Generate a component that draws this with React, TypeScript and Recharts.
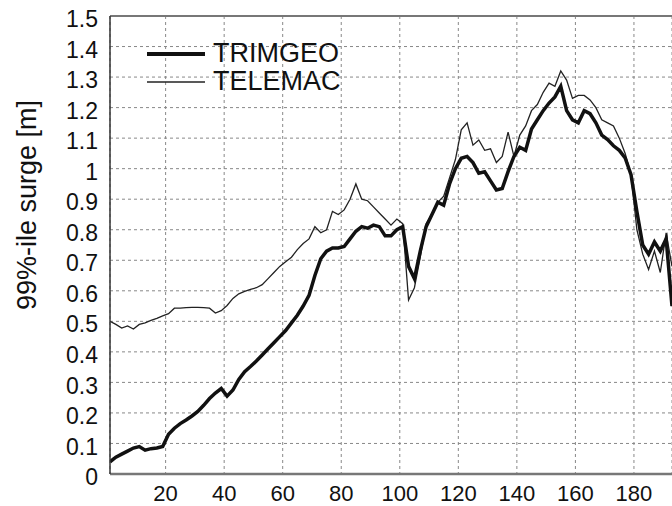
import React from 'react';
import { LineChart, Line, XAxis, YAxis, CartesianGrid, ReferenceLine, Label } from 'recharts';

// station index along the coast (every 2nd point)
const stations = [
  1, 3, 5, 7, 9, 11, 13, 15, 17, 19, 21, 23, 25, 27, 29, 31, 33, 35, 37, 39,
  41, 43, 45, 47, 49, 51, 53, 55, 57, 59, 61, 63, 65, 67, 69, 71, 73, 75, 77, 79,
  81, 83, 85, 87, 89, 91, 93, 95, 97, 99, 101, 103, 105, 107, 109, 111, 113, 115, 117, 119,
  121, 123, 125, 127, 129, 131, 133, 135, 137, 139, 141, 143, 145, 147, 149, 151, 153, 155, 157, 159,
  161, 163, 165, 167, 169, 171, 173, 175, 177, 179, 181, 183, 185, 187, 189, 191, 193,
];

const trimgeo = [
  0.04, 0.055, 0.065, 0.075, 0.085, 0.09, 0.078, 0.083, 0.085, 0.09, 0.13, 0.15, 0.165, 0.177, 0.19, 0.205, 0.225, 0.247, 0.265, 0.28,
  0.255, 0.275, 0.31, 0.335, 0.352, 0.37, 0.39, 0.41, 0.43, 0.45, 0.47, 0.495, 0.52, 0.55, 0.585, 0.65, 0.705, 0.73, 0.74, 0.74,
  0.745, 0.77, 0.795, 0.81, 0.805, 0.815, 0.81, 0.78, 0.78, 0.8, 0.81, 0.68, 0.64, 0.73, 0.81, 0.85, 0.89, 0.88, 0.95, 1.0,
  1.034, 1.04, 1.02, 0.985, 0.99, 0.96, 0.93, 0.935, 0.99, 1.04, 1.07, 1.06, 1.13, 1.16, 1.19, 1.215, 1.235, 1.27, 1.19, 1.16,
  1.15, 1.19, 1.18, 1.15, 1.11, 1.095, 1.075, 1.06, 1.035, 0.98, 0.86, 0.75, 0.72, 0.76, 0.73, 0.77, 0.55,
];

const telemac = [
  0.5, 0.49, 0.478, 0.485, 0.475, 0.49, 0.495, 0.503, 0.51, 0.518, 0.525, 0.543, 0.543, 0.545, 0.546, 0.546, 0.545, 0.543, 0.527, 0.535,
  0.552, 0.575, 0.59, 0.598, 0.605, 0.61, 0.62, 0.64, 0.66, 0.68, 0.695, 0.71, 0.735, 0.755, 0.77, 0.81, 0.79, 0.8, 0.86, 0.85,
  0.865, 0.9, 0.95, 0.9, 0.895, 0.875, 0.855, 0.835, 0.815, 0.835, 0.82, 0.57, 0.61, 0.71, 0.82, 0.85, 0.89, 0.91, 0.97, 1.03,
  1.127, 1.15, 1.077, 1.094, 1.06, 1.065, 1.02, 1.04, 1.12, 1.04, 1.11, 1.14, 1.19, 1.21, 1.25, 1.28, 1.27, 1.32, 1.29, 1.23,
  1.24, 1.24, 1.225, 1.2, 1.16, 1.15, 1.14, 1.1, 1.05, 0.98, 0.8, 0.72, 0.67, 0.73, 0.66, 0.79, 0.68,
];

const xTicks = [20, 40, 60, 80, 100, 120, 140, 160, 180];
const yTicks = [0, 0.1, 0.2, 0.3, 0.4, 0.5, 0.6, 0.7, 0.8, 0.9, 1, 1.1, 1.2, 1.3, 1.4, 1.5];

const data = stations.map((x, i) => ({ x, trimgeo: trimgeo[i], telemac: telemac[i] }));

const FONT = '"Liberation Sans", Arial, sans-serif';

// legend sits inside the plot, top left
const LegendBox = () => (
  <svg width={400} height={100} style={{ position: 'absolute', left: 0, top: 0, pointerEvents: 'none' }}>
    <line x1={147} y1={54} x2={205} y2={54} stroke="#111" strokeWidth={4} />
    <text x={213} y={61.5} fontFamily={FONT} fontSize={27} fill="#111">TRIMGEO</text>
    <line x1={147} y1={82} x2={205} y2={82} stroke="#222" strokeWidth={1.5} />
    <text x={213} y={90} fontFamily={FONT} fontSize={27} fill="#111">TELEMAC</text>
  </svg>
);

const YTitle = () => (
  <text
    x={27}
    y={205}
    transform="rotate(-90 27 205)"
    textAnchor="middle"
    dominantBaseline="central"
    fontFamily={FONT}
    fontSize={27}
    fill="#111"
  >
    99%-ile surge [m]
  </text>
);

const App: React.FC = () => {
  return (
    <div style={{ position: 'absolute', left: 0, top: 0, width: 672, height: 506, background: '#fff' }}>
      <LineChart width={672} height={506} data={data} margin={{ top: 16, right: 0, bottom: 0, left: 0 }}>
        <CartesianGrid stroke="#888" strokeDasharray="3 3" />
        <XAxis
          dataKey="x"
          type="number"
          domain={[1, 193]}
          ticks={xTicks}
          allowDataOverflow
          height={32}
          tickLine={false}
          tickSize={0}
          tickMargin={11}
          axisLine={{ stroke: '#777', strokeWidth: 2.5 }}
          tick={{ fill: '#111', fontSize: 22, fontFamily: FONT }}
        />
        <YAxis
          type="number"
          domain={[0, 1.5]}
          ticks={yTicks}
          interval={0}
          width={110}
          tickLine={false}
          tickSize={0}
          tickMargin={12}
          axisLine={{ stroke: '#333', strokeWidth: 1.5 }}
          tick={{ fill: '#111', fontSize: 23, fontFamily: FONT, dy: 3 }}
        >
          <Label content={<YTitle />} />
        </YAxis>
        <ReferenceLine y={1.5} stroke="#777" strokeWidth={2} />
        <Line type="linear" dataKey="telemac" stroke="#222" strokeWidth={1.3} dot={false} isAnimationActive={false} />
        <Line type="linear" dataKey="trimgeo" stroke="#111" strokeWidth={3.5} dot={false} isAnimationActive={false} />
      </LineChart>
      <LegendBox />
    </div>
  );
};

export default App;
